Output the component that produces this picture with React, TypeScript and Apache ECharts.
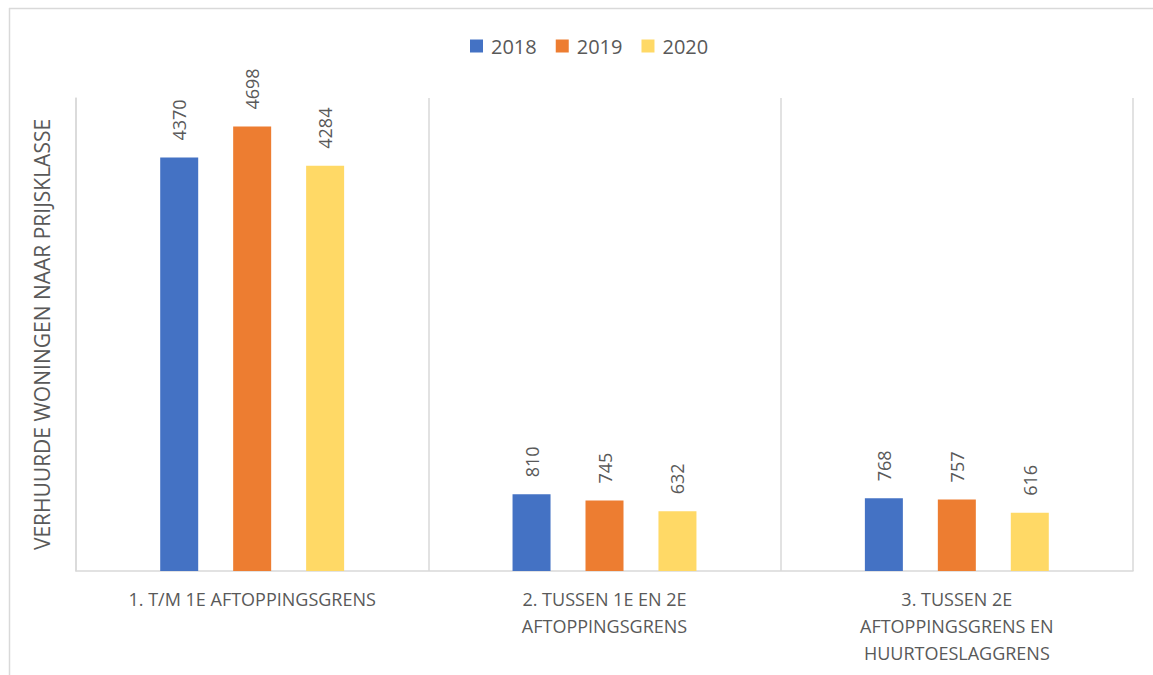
import React, { useEffect, useRef } from "react";
import * as echarts from "echarts";

const categories = [
  "1. T/M 1E AFTOPPINGSGRENS",
  "2. TUSSEN 1E EN 2E\nAFTOPPINGSGRENS",
  "3. TUSSEN 2E\nAFTOPPINGSGRENS EN\nHUURTOESLAGGRENS",
];
const years = ["2018", "2019", "2020"];
const values2018 = [4370, 810, 768];
const values2019 = [4698, 745, 757];
const values2020 = [4284, 632, 616];
const colors = ["#4472C4", "#ED7D31", "#FFD966"];
const yAxisTitle = "VERHUURDE WONINGEN NAAR PRIJSKLASSE";

export default function App() {
  const ref = useRef<HTMLDivElement>(null);
  useEffect(() => {
    if (!ref.current) return;
    const chart = echarts.init(ref.current, undefined, { renderer: "svg" });
    const seriesData = [values2018, values2019, values2020];
    chart.setOption({
      animation: false,
      backgroundColor: "#ffffff",
      textStyle: { fontFamily: "Open Sans, Noto Sans, sans-serif" },
      legend: {
        top: 31,
        left: 465,
        itemWidth: 13,
        itemHeight: 13,
        itemGap: 19,
        icon: "rect",
        textStyle: { fontSize: 20, color: "#595959", padding: [0, 0, 0, 3] },
        data: years,
      },
      grid: { left: 76, right: 20, top: 98, bottom: 104, containLabel: false },
      xAxis: {
        type: "category",
        data: categories,
        axisTick: { show: false },
        axisLine: { lineStyle: { color: "#d9d9d9", width: 1.5 } },
        splitLine: { show: true, lineStyle: { color: "#d9d9d9", width: 1.5 } },
        axisLabel: {
          color: "#595959",
          fontSize: 18,
          lineHeight: 27,
          margin: 14,
          interval: 0,
        },
      },
      yAxis: {
        type: "value",
        min: 0,
        max: 5000,
        axisLine: { show: true, lineStyle: { color: "#d9d9d9", width: 1.5 } },
        axisLabel: { show: false },
        axisTick: { show: false },
        splitLine: { show: false },
        name: yAxisTitle,
        nameLocation: "middle",
        nameGap: 24,
        nameTextStyle: { color: "#595959", fontSize: 21 },
      },
      series: years.map((y, i) => ({
        name: y,
        type: "bar",
        data: seriesData[i],
        barWidth: 38,
        barGap: "92%",
        itemStyle: { color: colors[i] },
        label: {
          show: true,
          position: "top",
          rotate: 90,
          align: "left",
          verticalAlign: "middle",
          distance: 17,
          color: "#595959",
          fontSize: 18,
        },
      })),
      graphic: [
        {
          type: "line",
          shape: { x1: 9, y1: 8.5, x2: 1153, y2: 8.5 },
          style: { stroke: "#d9d9d9", lineWidth: 1.5 },
          silent: true,
        },
        {
          type: "line",
          shape: { x1: 9.5, y1: 8, x2: 9.5, y2: 675 },
          style: { stroke: "#d9d9d9", lineWidth: 1.5 },
          silent: true,
        },
      ],
    });
    return () => chart.dispose();
  }, []);
  return (
    <div
      ref={ref}
      style={{ position: "absolute", left: 0, top: 0, width: 1153, height: 675 }}
    />
  );
}
